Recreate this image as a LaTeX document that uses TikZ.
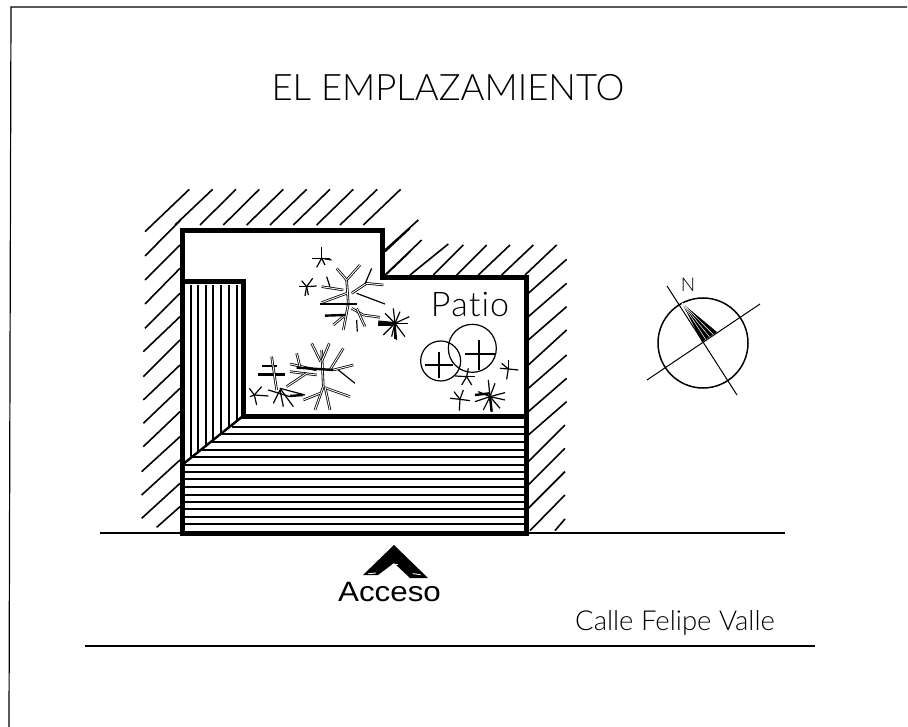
\documentclass[tikz,border=0pt]{standalone}
\usepackage{fontspec}
\usetikzlibrary{calc}
\setmainfont{Liberation Sans}
\newfontfamily\handfont{Lato Light}
\tikzset{
  wallline/.style={line width=5pt,line join=miter,line cap=butt},
  hatchline/.style={line width=1.6pt},
  fineline/.style={line width=1.15pt},
  limb/.style={line width=.8pt,double=white,double distance=.9pt},
  twig/.style={line width=1.2pt},
  heavy/.style={line width=2.4pt},
  handtext/.style={font=\handfont,inner sep=0pt,text=black},
  zoomA/.style={shift={(130,180)},x=.3333pt,y=-.3333pt},
  zoomB/.style={shift={(370,220)},x=.3333pt,y=-.3333pt},
  zoomD/.style={shift={(130,400)},x=.3333pt,y=-.3333pt},
}
\begin{document}
\begin{tikzpicture}[x=1pt,y=-1pt]
\useasboundingbox (0,0) rectangle (908,727);
\fill[white] (0,0) rectangle (908,727);
% page frame
\coordinate (fa) at (907,7); \coordinate (fb) at (11,7); \coordinate (fc) at (9,727);
\draw[line width=1.2pt] (fa) -- (fb) -- (fc);
% title
\node[handtext,font=\handfont\fontsize{36.5}{37}\selectfont,anchor=base] (title) at (448,101) {EL EMPLAZAMIENTO};
% hatching
\begin{scope}[zoomA]
\foreach \a/\b/\c/\d in {45/155/178/28,135/135/248/28,210/135/318/28,280/135/388/28,350/135/460/28,420/135/530/28,490/135/600/28,560/135/670/28,630/135/742/28,700/135/812/28,
 45/228/152/120,45/300/150/195,45/372/150/265,45/445/150/340,40/515/150/410,40/590/150/480,40/660/150/555,40/730/150/625,40/800/150/695,
 765/215/840/145,770/282/840/215}
  \draw[hatchline] (\a,\b) -- (\c,\d);
\end{scope}
\begin{scope}[zoomB]
\foreach \a/\b/\c/\d in {45/90/145/0,45/165/155/60,120/165/235/72,190/165/280/75,260/165/350/75,325/165/420/75,395/165/490/75,465/165/560/75,
 475/220/590/118,475/290/590/190,475/360/590/260,475/435/590/330,475/505/590/405,475/575/590/475,475/645/590/545}
  \draw[hatchline] (\a,\b) -- (\c,\d);
\end{scope}
\begin{scope}[zoomD]
\foreach \a/\b/\c/\d in {35/215/150/110,35/285/150/180,35/355/150/250,80/382/150/320,
 1195/185/1305/75,1195/255/1305/145,1195/325/1305/215,1200/392/1305/285,1275/392/1305/357}
  \draw[hatchline] (\a,\b) -- (\c,\d);
\end{scope}
% vertical shading of the left wing
\foreach \x/\y in {191/458,198/452,206/446,213/441,221/434,229/428,237/421}
  \draw[fineline] (\x,285) -- (\x,\y);
% horizontal shading
\foreach \x/\y in {232/427,222/434,212/442,202/450,192/457,184/465}
  \draw[fineline] (\x,\y) -- (524,\y);
\foreach \y in {479,487,495,502,509,517,524}
  \draw[fineline] (184,\y) -- (524,\y);
\draw[line width=2pt] (184,472) -- (524,472);
\coordinate (sl) at (182,465); \coordinate (sr) at (526,465);
\draw[line width=1.2pt] (sl) -- (sr);
% road
\coordinate (ra) at (100,533); \coordinate (rb) at (785,533);
\coordinate (rc) at (85,646); \coordinate (rd) at (815,646);
\draw[line width=1.4pt] (ra) -- (rb);
\draw[line width=1.4pt] (rc) -- (rd);
% building
\coordinate (b1) at (182,231); \coordinate (b2) at (382,231); \coordinate (b3) at (382,278);
\coordinate (b4) at (526,278); \coordinate (b5) at (526,533); \coordinate (b6) at (182,533);
\draw[wallline] (b1) -- (b2) -- (b3) -- (b4) -- (b5) -- (b6) -- cycle;
\coordinate (i1) at (182,282); \coordinate (i2) at (243,282); \coordinate (i3) at (243,416); \coordinate (i4) at (526,416);
\draw[wallline] (i1) -- (i2) -- (i3) -- (i4);
\coordinate (d1) at (182,465);
\draw[line width=2.4pt] (i3) -- (d1);
% trees, left
\begin{scope}[zoomA]
 % tree 1
 \draw[limb] (650,300) -- (655,372) -- (640,450);
 \draw[limb] (650,300) -- (690,255);
 \draw[limb] (650,300) -- (620,265);
 \draw[limb] (665,340) -- (710,310) -- (760,315);
 \draw[twig] (680,340) -- (765,372);
 \draw[twig] (725,265) -- (705,312);
 \draw[limb] (640,330) -- (575,320);
 \draw[limb] (650,340) -- (575,368);
 \draw[twig] (590,290) -- (600,320);
 \draw[limb] (665,385) -- (700,405) -- (750,412);
 \draw[limb] (680,385) -- (705,440);
 \draw[heavy] (645,405) -- (585,407);
 \draw[limb] (640,410) -- (610,435);
 \draw[twig] (680,420) -- (682,455);
 \draw[heavy] (570,372) -- (682,372);
 % bush beside tree 1
 \draw[heavy] (745,425) -- (795,430);
 \draw[heavy] (745,433) -- (790,433);
 \foreach \a/\b in {790/385,810/395,838/410,835/430,825/470,800/480,785/470,760/465,765/400}
   \draw[twig] (795,430) -- (\a,\b);
 \draw[heavy] (795,435) -- (795,478);
 % small stars
 \foreach \a/\b in {575/202,605/240,545/235,600/235,560/262,585/255}
   \draw[twig] (575,235) -- (\a,\b);
 \foreach \a/\b in {508/320,560/318,525/348,535/345,548/295,515/302}
   \draw[twig] (530,320) -- (\a,\b);
 % tree 2
 \draw[limb] (575,510) -- (580,620) -- (555,690);
 \draw[limb] (545,490) -- (572,545);
 \draw[limb] (598,490) -- (575,545);
 \draw[limb] (600,570) -- (640,505);
 \draw[limb] (610,570) -- (670,555);
 \draw[twig] (625,570) -- (675,610);
 \draw[limb] (560,570) -- (480,552);
 \draw[limb] (560,585) -- (480,575);
 \draw[limb] (500,520) -- (510,560);
 \draw[limb] (585,620) -- (600,690);
 \draw[limb] (590,625) -- (660,650);
 \draw[limb] (570,640) -- (520,660);
 \draw[limb] (530,580) -- (470,620);
 \draw[heavy] (500,563) -- (610,570);
 % tree 3
 \draw[heavy] (385,583) -- (465,583);
 \draw[twig] (395,558) -- (440,558);
 \draw[limb] (425,530) -- (440,630);
 \draw[twig] (450,625) -- (490,680);
 \draw[twig] (450,630) -- (430,670);
 \draw[twig] (450,630) -- (460,680);
 \draw[twig] (450,625) -- (525,645);
 \draw[heavy] (480,648) -- (520,645);
 \draw[twig] (415,630) -- (480,650);
 % star far left
 \foreach \a/\b in {395/620,358/625,380/675,360/650,415/648}
   \draw[twig] (373,645) -- (\a,\b);
\end{scope}
% patio plants and circles
\begin{scope}[zoomB]
 \draw[line width=1.2pt] (307,385) circle[radius=24pt];
 \draw[line width=1.2pt] (212,423) circle[radius=20pt];
 \draw[line width=1.1pt] (327,360) -- (327,450);
 \draw[line width=1.1pt] (285,402) -- (375,402);
 \draw[line width=1.1pt] (207,395) -- (207,475);
 \draw[line width=1.1pt] (165,435) -- (250,435);
 \foreach \a/\b in {415/420,395/430,445/450,390/445,410/478}
   \draw[twig] (415,447) -- (\a,\b);
 \foreach \a/\b in {295/445,255/468,315/470,275/495,305/495}
   \draw[twig] (290,470) -- (\a,\b);
 \foreach \a/\b in {280/510,240/535,300/542,268/572,252/515}
   \draw[twig] (270,538) -- (\a,\b);
 \foreach \a/\b in {355/480,375/490,405/518,405/540,390/565,365/575,340/570,315/545,325/515}
   \draw[twig] (360,530) -- (\a,\b);
 \draw[heavy] (315,525) -- (360,520);
 \draw[heavy] (360,530) -- (365,575);
\end{scope}
% labels
\node[handtext,anchor=base,font=\handfont\fontsize{34}{34}\selectfont] (patio) at (470,317) {P\kern1pt a\kern1pt t\kern1pt\kern0pt i\kern1pt o};
\node[handtext,anchor=base,font=\handfont\fontsize{27.5}{28}\selectfont] (calle) at (675,630) {Calle Felipe Valle};
\node[anchor=base,inner sep=0pt,font=\fontsize{28}{28}\selectfont] (acceso) at (389.5,601) {\scalebox{1.12}[1]{Acceso}};
% access arrow
\coordinate (ac1) at (394,545); \coordinate (ac2) at (363,575); \coordinate (ac3) at (378,575);
\coordinate (ac4) at (394,563); \coordinate (ac5) at (410,578); \coordinate (ac6) at (428,578);
\fill (ac1) -- (ac2) -- (ac3) -- (ac4) -- (ac5) -- (ac6) -- cycle;
\begin{scope}[zoomD]
 \draw[white,line width=.9pt] (715,521) -- (738,519);
 \draw[white,line width=.9pt] (848,521) -- (872,524);
 \draw[white,line width=.9pt] (785,493) -- (805,493);
\end{scope}
% north point
\coordinate (cc) at (703,343);
\coordinate (n1) at (667,286); \coordinate (n2) at (737,395);
\coordinate (e1) at (647,380); \coordinate (e2) at (760,304);
\draw[line width=1.5pt] (cc) circle[radius=45pt];
\draw[line width=1pt] (n1) -- (n2);
\draw[line width=1pt] (e1) -- (e2);
\coordinate (w1) at (682,303); \coordinate (w2) at (717,332); \coordinate (w3) at (702,342);
\fill (w1) -- (w2) -- (w3) -- cycle;
\foreach \t in {.25,.5,.75}
  \draw[white,line width=.5pt] (w1) -- ($(w2)!\t!(w3)$);
\node[anchor=base,inner sep=0pt,font=\handfont\fontsize{19}{19}\selectfont] (north) at (688,292) {N};
\end{tikzpicture}
\end{document}
